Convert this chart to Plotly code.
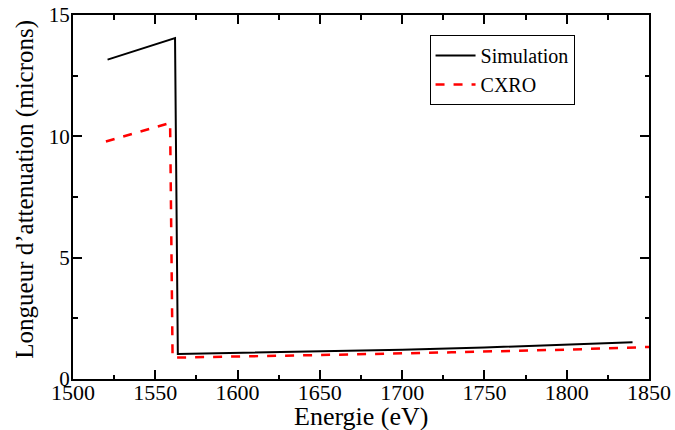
import plotly.graph_objects as go

sim_x = [1521, 1562, 1563.7, 1600, 1650, 1700, 1750, 1800, 1840]
sim_y = [13.16, 14.05, 1.03, 1.07, 1.13, 1.21, 1.30, 1.40, 1.51]

cxro_x = [1520, 1559, 1560.5, 1600, 1660, 1730, 1800, 1850, 1860]
cxro_y = [9.79, 10.55, 0.88, 0.92, 1.00, 1.10, 1.21, 1.32, 1.34]

x_ticks = [1500, 1550, 1600, 1650, 1700, 1750, 1800, 1850]
y_ticks = [0, 5, 10, 15]

x_title = "Energie (eV)"
y_title = "Longueur d\u2019attenuation (microns)"

FONT = "Liberation Serif"

fig = go.Figure()
fig.add_trace(go.Scatter(x=sim_x, y=sim_y, mode="lines", name="Simulation",
                         line=dict(color="black", width=2)))
fig.add_trace(go.Scatter(x=cxro_x, y=cxro_y, mode="lines", name="CXRO",
                         line=dict(color="red", width=2.5, dash="dash")))

axis_common = dict(
    showgrid=False, zeroline=False, showline=True, linecolor="black", linewidth=2,
    mirror="allticks", ticks="inside", ticklen=9, tickwidth=1.5, tickcolor="black",
    automargin=False,
)

fig.update_xaxes(range=[1500, 1850], tickvals=x_ticks, ticktext=[str(v) for v in x_ticks],
                 minor=dict(dtick=25, tick0=1500, ticks="inside", ticklen=4.5, tickwidth=1.5, tickcolor="black"),
                 tickfont=dict(family=FONT, size=22, color="black"), ticklabelstandoff=-7,
                 **axis_common)
fig.update_yaxes(range=[0, 15], tickvals=y_ticks, ticktext=[str(v) for v in y_ticks],
                 minor=dict(dtick=2.5, tick0=0, ticks="inside", ticklen=4.5, tickwidth=1.5, tickcolor="black"),
                 tickfont=dict(family=FONT, size=21, color="black"), ticklabelstandoff=-3,
                 **axis_common)

fig.add_annotation(text=x_title, xref="paper", yref="paper", x=0.5, y=0,
                   xanchor="center", yanchor="top", yshift=-21, showarrow=False,
                   font=dict(family=FONT, size=26, color="black"))
fig.add_annotation(text=y_title, xref="paper", yref="paper", x=0, y=0.52,
                   xanchor="center", yanchor="middle", xshift=-48, textangle=-90, showarrow=False,
                   font=dict(family=FONT, size=25, color="black"))

fig.update_layout(
    width=675, height=430,
    margin=dict(l=73, r=26, t=15, b=51),
    paper_bgcolor="white", plot_bgcolor="white",
    font=dict(family=FONT, color="black"),
    legend=dict(x=0.619, y=0.945, xanchor="left", yanchor="top",
                bordercolor="black", borderwidth=1, bgcolor="white",
                font=dict(family=FONT, size=20, color="black"),
                tracegroupgap=0, itemwidth=40),
    showlegend=True,
)

fig.write_html("out.html", config={"displayModeBar": False},
               post_script="document.body.style.margin='0';document.body.style.padding='0';")
